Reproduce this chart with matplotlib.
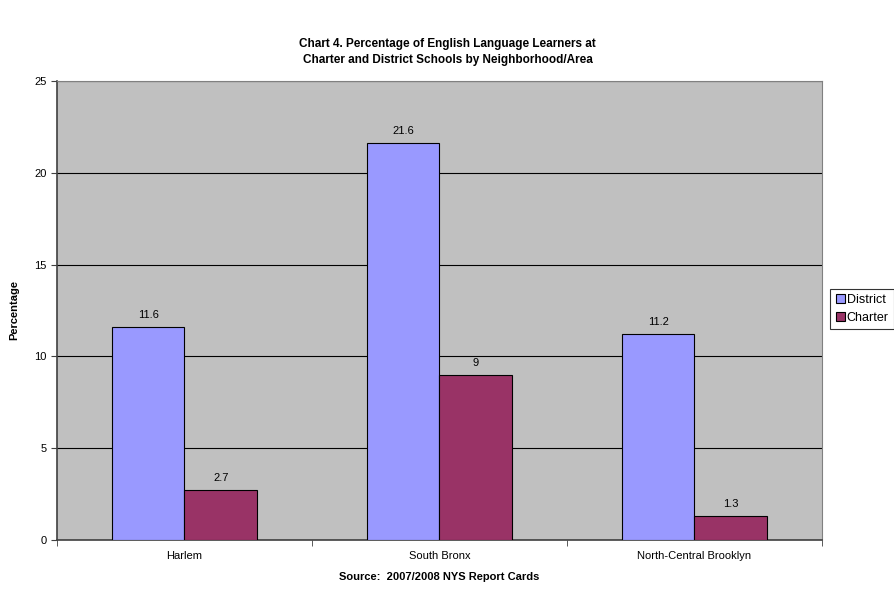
import matplotlib
matplotlib.use("Agg")
import matplotlib.pyplot as plt
import numpy as np

areas = ["Harlem", "South Bronx", "North-Central Brooklyn"]
district = [11.6, 21.6, 11.2]
charter = [2.7, 9, 1.3]
series_names = ["District", "Charter"]

plt.rcParams["font.family"] = ["Liberation Sans", "DejaVu Sans"]

fig = plt.figure(figsize=(8.95, 5.91), dpi=100)
ax = fig.add_axes([57 / 895, 1 - 540 / 591, 765 / 895, 459 / 591])
ax.set_facecolor("#C0C0C0")

x = np.arange(len(areas))
w = 0.286
b1 = ax.bar(x - w / 2, district, w, color="#9999FF", edgecolor="black", linewidth=0.8,
            label=series_names[0], zorder=3)
b2 = ax.bar(x + w / 2, charter, w, color="#993366", edgecolor="black", linewidth=0.8,
            label=series_names[1], zorder=3)

for bars in (b1, b2):
    for r in bars:
        h = r.get_height()
        ax.annotate(f"{h:g}", xy=(r.get_x() + r.get_width() / 2, h), xytext=(0, 5),
                    textcoords="offset points", ha="center", va="bottom", fontsize=8)

ax.set_ylim(0, 25)
ax.set_yticks([0, 5, 10, 15, 20, 25])
ax.set_xlim(-0.5, 2.5)
ax.set_xticks(x)
ax.set_xticklabels(areas, fontsize=8)
ax.set_xticks([-0.5, 0.5, 1.5, 2.5], minor=True)
ax.tick_params(axis="x", which="major", length=0, pad=8)
ax.tick_params(axis="x", which="minor", length=4, direction="out", color="#404040")
ax.tick_params(axis="y", length=4, direction="out", color="#404040", labelsize=8)

ax.grid(axis="y", color="black", linewidth=0.8, zorder=1)
ax.set_axisbelow(True)
for s in ("top", "right"):
    ax.spines[s].set_color("#808080")
for s in ("left", "bottom"):
    ax.spines[s].set_color("#404040")
    ax.spines[s].set_linewidth(1.2)

ax.set_ylabel("Percentage", fontsize=8, fontweight="bold", labelpad=11)
ax.set_xlabel("Source:  2007/2008 NYS Report Cards", fontsize=8, fontweight="bold", labelpad=8)

fig.text(0.5, 1 - 52 / 591, "Chart 4. Percentage of English Language Learners at\nCharter and District Schools by Neighborhood/Area",
         ha="center", va="center", fontsize=8.5, fontweight="bold", linespacing=1.35)

leg = fig.legend(handles=[b1, b2], labels=series_names, loc="center left",
                 bbox_to_anchor=(830 / 895, 1 - 309 / 591), fontsize=9, frameon=True,
                 fancybox=False, edgecolor="black", handlelength=0.75, handleheight=0.75,
                 handletextpad=0.15, borderpad=0.45, labelspacing=0.45, borderaxespad=0)
leg.get_frame().set_linewidth(0.8)

fig.savefig("out.png", dpi=100, facecolor="white")
